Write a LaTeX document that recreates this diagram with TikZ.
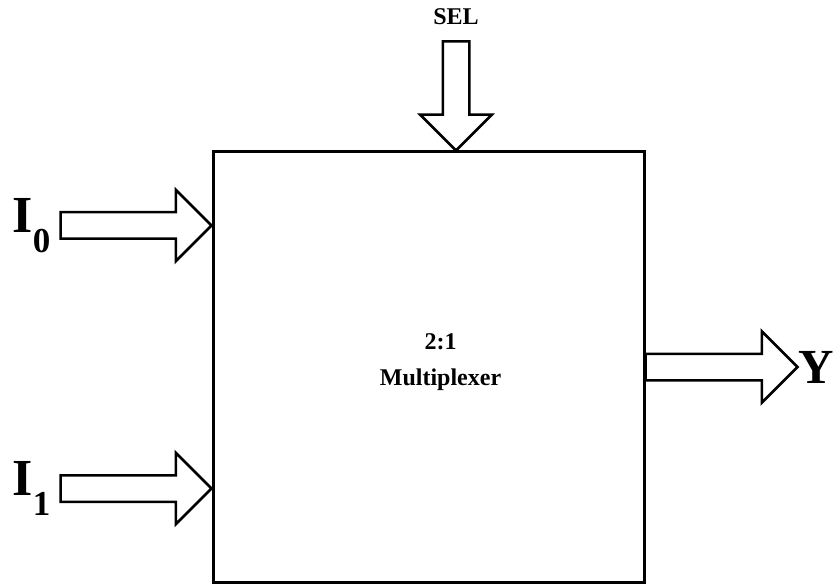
\documentclass[tikz,border=0pt]{standalone}
\usepackage{fontspec}
\setmainfont{Liberation Serif}
\usetikzlibrary{shapes.arrows,positioning,calc}

\begin{document}
\begin{tikzpicture}[x=1pt,y=1pt,
  fatarrow/.style={draw,line width=2.5pt,fill=white,single arrow,single arrow head extend=22.5pt,inner xsep=0pt,inner ysep=12pt,outer sep=0pt},
  biglabel/.style={font=\bfseries\fontsize{52}{52}\selectfont,inner sep=0pt},
  smalllabel/.style={font=\bfseries\fontsize{24}{36}\selectfont,inner sep=0pt,align=center}]
\useasboundingbox (0,0) rectangle (835,-585);
\node[draw,line width=3pt,minimum width=431pt,minimum height=430pt,inner sep=0pt] (mux) at (428.5,-367) {};
\node[smalllabel] (name) at ($(mux.center)+(12,5)$) {2:1\\Multiplexer};
% inputs, select and output
\node[fatarrow,minimum height=151pt,anchor=tip] (in0) at ($(mux.north west)+(0,-75)$) {};
\node[fatarrow,minimum height=151pt,anchor=tip] (in1) at ($(mux.south west)+(0,95)$) {};
\node[fatarrow,minimum height=109pt,anchor=tip,rotate=-90] (sel) at ($(mux.north)+(27.5,0)$) {};
\node[fatarrow,minimum height=152pt,anchor=tail] (out) at (mux.east) {};
\node[biglabel,left=10pt of in0.tail] (i0) {I\raisebox{-20pt}{\fontsize{35}{35}\selectfont 0}};
\node[biglabel,left=10pt of in1.tail] (i1) {I\raisebox{-20pt}{\fontsize{35}{35}\selectfont 1}};
\node[biglabel,font=\bfseries\fontsize{49}{49}\selectfont,right=1pt of out.tip] (y) {Y};
\node[smalllabel,above=17pt of sel.tail] (seltext) {SEL};
\end{tikzpicture}
\end{document}
